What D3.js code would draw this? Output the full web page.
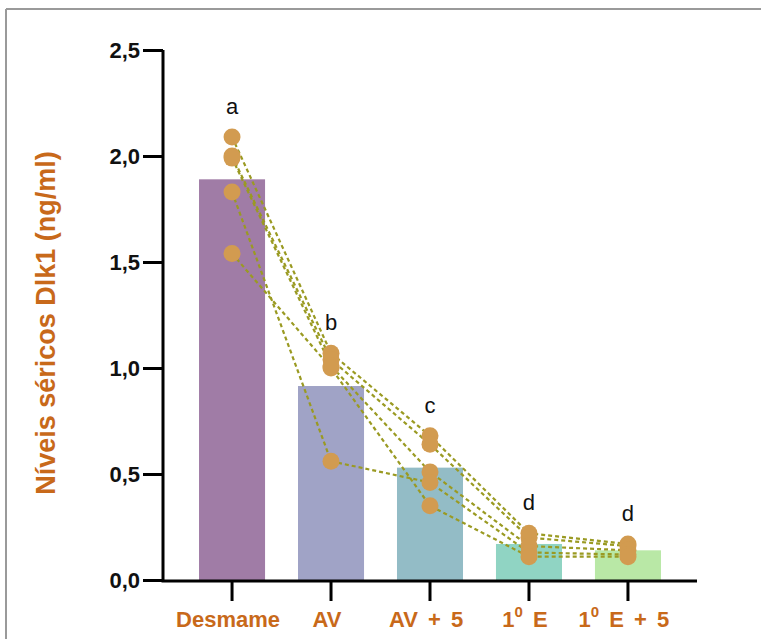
<!DOCTYPE html>
<html>
<head>
<meta charset="utf-8">
<script src="https://cdn.jsdelivr.net/npm/d3@7"></script>
<style>
  html, body { margin: 0; padding: 0; background: #fff; }
  svg { display: block; }
</style>
</head>
<body>
<svg id="chart" width="761" height="639"></svg>
<script>
// Groups (time points) and bar means
const groups = ["Desmame", "AV", "AV + 5", "1⁰ E", "1⁰ E + 5"];
const means = [1.89, 0.915, 0.53, 0.17, 0.14];
const barColors = ["#a07ca6", "#a0a3c6", "#93bcc6", "#90d4c3", "#b9e8a6"];
const letters = ["a", "b", "c", "d", "d"];

// Individual animals, one value per group
const animal1 = [2.09, 1.07, 0.68, 0.22, 0.17];
const animal2 = [2.00, 1.04, 0.64, 0.20, 0.16];
const animal3 = [1.99, 1.01, 0.51, 0.16, 0.14];
const animal4 = [1.83, 0.56, 0.46, 0.13, 0.12];
const animal5 = [1.54, 1.00, 0.35, 0.11, 0.11];
const animals = [animal1, animal2, animal3, animal4, animal5];

const yTicks = [0, 0.5, 1.0, 1.5, 2.0, 2.5];
const yLabel = "Níveis séricos Dlk1 (ng/ml)";

const svg = d3.select("#chart");
const font = "Liberation Sans, Arial, sans-serif";

// Panel frame
svg.append("line").attr("x1", 6).attr("y1", 9).attr("x2", 761).attr("y2", 9)
  .attr("stroke", "#9a9a9a").attr("stroke-width", 2);
svg.append("line").attr("x1", 6).attr("y1", 9).attr("x2", 6).attr("y2", 639)
  .attr("stroke", "#9a9a9a").attr("stroke-width", 2);

const x = d3.scaleBand().domain(groups).range([163, 697])
  .paddingInner(0.333).paddingOuter(0.364);
const y = d3.scaleLinear().domain([0, 2.5]).range([580, 50]);
const cx = g => x(g) + x.bandwidth() / 2;

// Bars
svg.append("g").selectAll("rect").data(groups).join("rect")
  .attr("x", d => x(d))
  .attr("width", x.bandwidth())
  .attr("y", (d, i) => y(means[i]))
  .attr("height", (d, i) => y(0) - y(means[i]))
  .attr("fill", (d, i) => barColors[i]);

// Connecting lines per animal
const line = d3.line().x((d, i) => cx(groups[i])).y(d => y(d));
svg.append("g").selectAll("path").data(animals).join("path")
  .attr("d", line)
  .attr("fill", "none")
  .attr("stroke", "#9a9a22")
  .attr("stroke-width", 2.2)
  .attr("stroke-dasharray", "4,3");

// Points
const pts = [];
animals.forEach(a => a.forEach((v, i) => pts.push({ g: groups[i], v })));
svg.append("g").selectAll("circle").data(pts).join("circle")
  .attr("cx", d => cx(d.g))
  .attr("cy", d => y(d.v))
  .attr("r", 8.5)
  .attr("fill", "#d29b50");

// Significance letters
svg.append("g").selectAll("text").data(groups).join("text")
  .attr("x", d => cx(d))
  .attr("y", (d, i) => y(d3.max(animals, a => a[i])) - 23)
  .attr("text-anchor", "middle")
  .attr("font-family", font)
  .attr("font-size", 22)
  .attr("fill", "#111")
  .text((d, i) => letters[i]);

// Y axis
const yAxis = d3.axisLeft(y).tickValues(yTicks).tickSize(20).tickPadding(3)
  .tickFormat(d => d3.format(".1f")(d).replace(".", ","));
const gy = svg.append("g").attr("transform", "translate(163,0)").call(yAxis);
gy.select(".domain").attr("stroke", "#000").attr("stroke-width", 3).attr("d", "M0,50V581.5");
gy.selectAll(".tick line").attr("stroke", "#000").attr("stroke-width", 3);
gy.selectAll(".tick text")
  .attr("font-family", font)
  .attr("font-size", 22).attr("font-weight", "bold").attr("fill", "#111");

// X axis
const xAxis = d3.axisBottom(x).tickSize(20).tickPadding(8).tickFormat("");
const gx = svg.append("g").attr("transform", "translate(0,581)").call(xAxis);
gx.select(".domain").attr("stroke", "#000").attr("stroke-width", 3).attr("d", "M161.5,0H697");
gx.selectAll(".tick line").attr("stroke", "#000").attr("stroke-width", 3);

// X tick labels (with superscript zero)
const xl = svg.append("g").selectAll("text").data(groups).join("text")
  .attr("x", d => cx(d) - 4)
  .attr("y", 627)
  .attr("text-anchor", "middle")
  .attr("font-family", font)
  .attr("font-size", 22).attr("font-weight", "bold")
  .attr("word-spacing", 4)
  .attr("fill", "#c8691a");
xl.each(function(d) {
  const t = d3.select(this);
  if (d.startsWith("1⁰")) {
    t.append("tspan").text("1");
    t.append("tspan").attr("dy", -10).attr("font-size", 15).text("0");
    t.append("tspan").attr("dy", 10).text(d.slice(2));
  } else {
    t.text(d);
  }
});

// Y axis title
svg.append("text")
  .attr("transform", "translate(55,323) rotate(-90)")
  .attr("text-anchor", "middle")
  .attr("font-family", font)
  .attr("font-size", 27).attr("font-weight", "bold")
  .attr("fill", "#c8691a")
  .text(yLabel);
</script>
</body>
</html>
